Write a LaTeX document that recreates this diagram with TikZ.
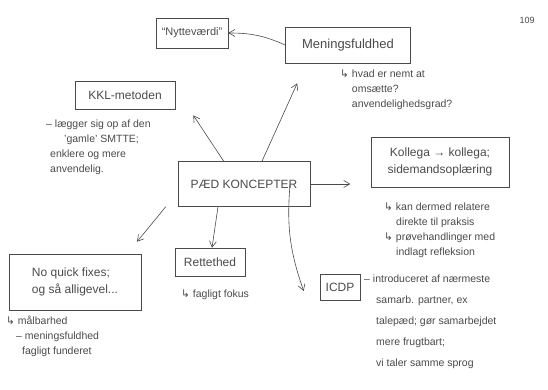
\documentclass[tikz,border=0pt]{standalone}
\usepackage{fontspec}
\setmainfont{Liberation Sans}
\newfontfamily\symfont{DejaVu Sans}
\newcommand{\hookarr}{{\symfont ↳}}
\usetikzlibrary{arrows.meta}
\definecolor{pencil}{HTML}{4A4A4A}
\tikzset{
  box/.style={draw=pencil, line width=0.6pt, text=pencil, inner sep=4pt, align=center},
  note/.style={text=pencil, anchor=north west, align=left, inner sep=0pt, font=\fontsize{10.5}{15}\selectfont},
  conn/.style={draw=pencil, line width=0.6pt, -{Straight Barb[length=6pt,width=7pt]}},
}
\begin{document}
\begin{tikzpicture}[x=1pt,y=-1pt]
\useasboundingbox (0,0) rectangle (548,389);
% page number
\node[text=pencil, font=\fontsize{9}{10}\selectfont] (pg) at (527,20) {109};
% boxes
\node[box, minimum width=72pt, minimum height=30pt, font=\fontsize{11}{13}\selectfont] (nytte) at (192,33) {“Nytteværdi”};
\node[box, minimum width=125pt, minimum height=36pt, font=\fontsize{13}{15}\selectfont] (mening) at (348,45) {Meningsfuldhed};
\node[box, minimum width=100pt, minimum height=28pt, font=\fontsize{12}{14}\selectfont] (kkl) at (125,95) {KKL-metoden};
\node[box, minimum width=132pt, minimum height=45pt, font=\fontsize{12}{14}\selectfont] (paed) at (244,184) {PÆD KONCEPTER};
\node[box, minimum width=138pt, minimum height=50pt, font=\fontsize{12}{17}\selectfont] (kollega) at (440,162) {Kollega → kollega;\\sidemandsoplæring};
\node[box, minimum width=132pt, minimum height=56pt, font=\fontsize{12}{17}\selectfont, align=left] (nqf) at (75,282) {No quick fixes;\\og så alligevel...};
\node[box, minimum width=70pt, minimum height=28pt, font=\fontsize{12}{14}\selectfont] (rett) at (210,262) {Rettethed};
\node[box, minimum width=40pt, minimum height=26pt, font=\fontsize{12}{14}\selectfont] (icdp) at (340,287) {ICDP};
% notes
\node[note] (nmening) at (340,70) {\hookarr{} hvad er nemt at\\\phantom{\hookarr{} }omsætte?\\\phantom{\hookarr{} }anvendelighedsgrad?};
\node[note] (nkkl) at (46,120) {– lægger sig op af den\\\hspace{18pt}’gamle’ SMTTE;\\\hspace{4pt}enklere og mere\\\hspace{4pt}anvendelig.};
\node[note] (nkoll) at (384,203) {\hookarr{} kan dermed relatere\\\hspace{12pt}direkte til praksis\\\hookarr{} prøvehandlinger med\\\hspace{12pt}indlagt refleksion};
\node[note] (nnqf) at (6,316) {\hookarr{} målbarhed\\\hspace{10pt}– meningsfuldhed\\\hspace{16pt}fagligt funderet};
\node[note] (nrett) at (181,290) {\hookarr{} fagligt fokus};
\node[note, font=\fontsize{10.5}{21}\selectfont] (nicdp) at (364,275) {– introduceret af nærmeste\\\hspace{12pt}samarb. partner, ex\\\hspace{12pt}talepæd; gør samarbejdet\\\hspace{12pt}mere frugtbart;\\\hspace{12pt}vi taler samme sprog};
% connectors
\draw[conn] (mening.west) to[bend right=12] (nytte.east);
\draw[conn] ([xshift=46pt]paed.north west) -- ([xshift=18pt,yshift=-6pt]kkl.south east);
\draw[conn] ([xshift=18pt]paed.north) -- ([xshift=12pt,yshift=-20pt]mening.south west);
\draw[conn] (paed.east) -- ++(40,0) coordinate (k1);
\draw[conn] ([xshift=-12pt]paed.south west) -- ([xshift=62pt,yshift=12pt]nqf.north);
\draw[conn] ([xshift=-26pt]paed.south) -- ([xshift=2pt]rett.north);
\draw[conn] ([xshift=46pt,yshift=22pt]paed.south) to[bend right=12] ([xshift=-16pt,yshift=-4pt]icdp.west);
\end{tikzpicture}
\end{document}
